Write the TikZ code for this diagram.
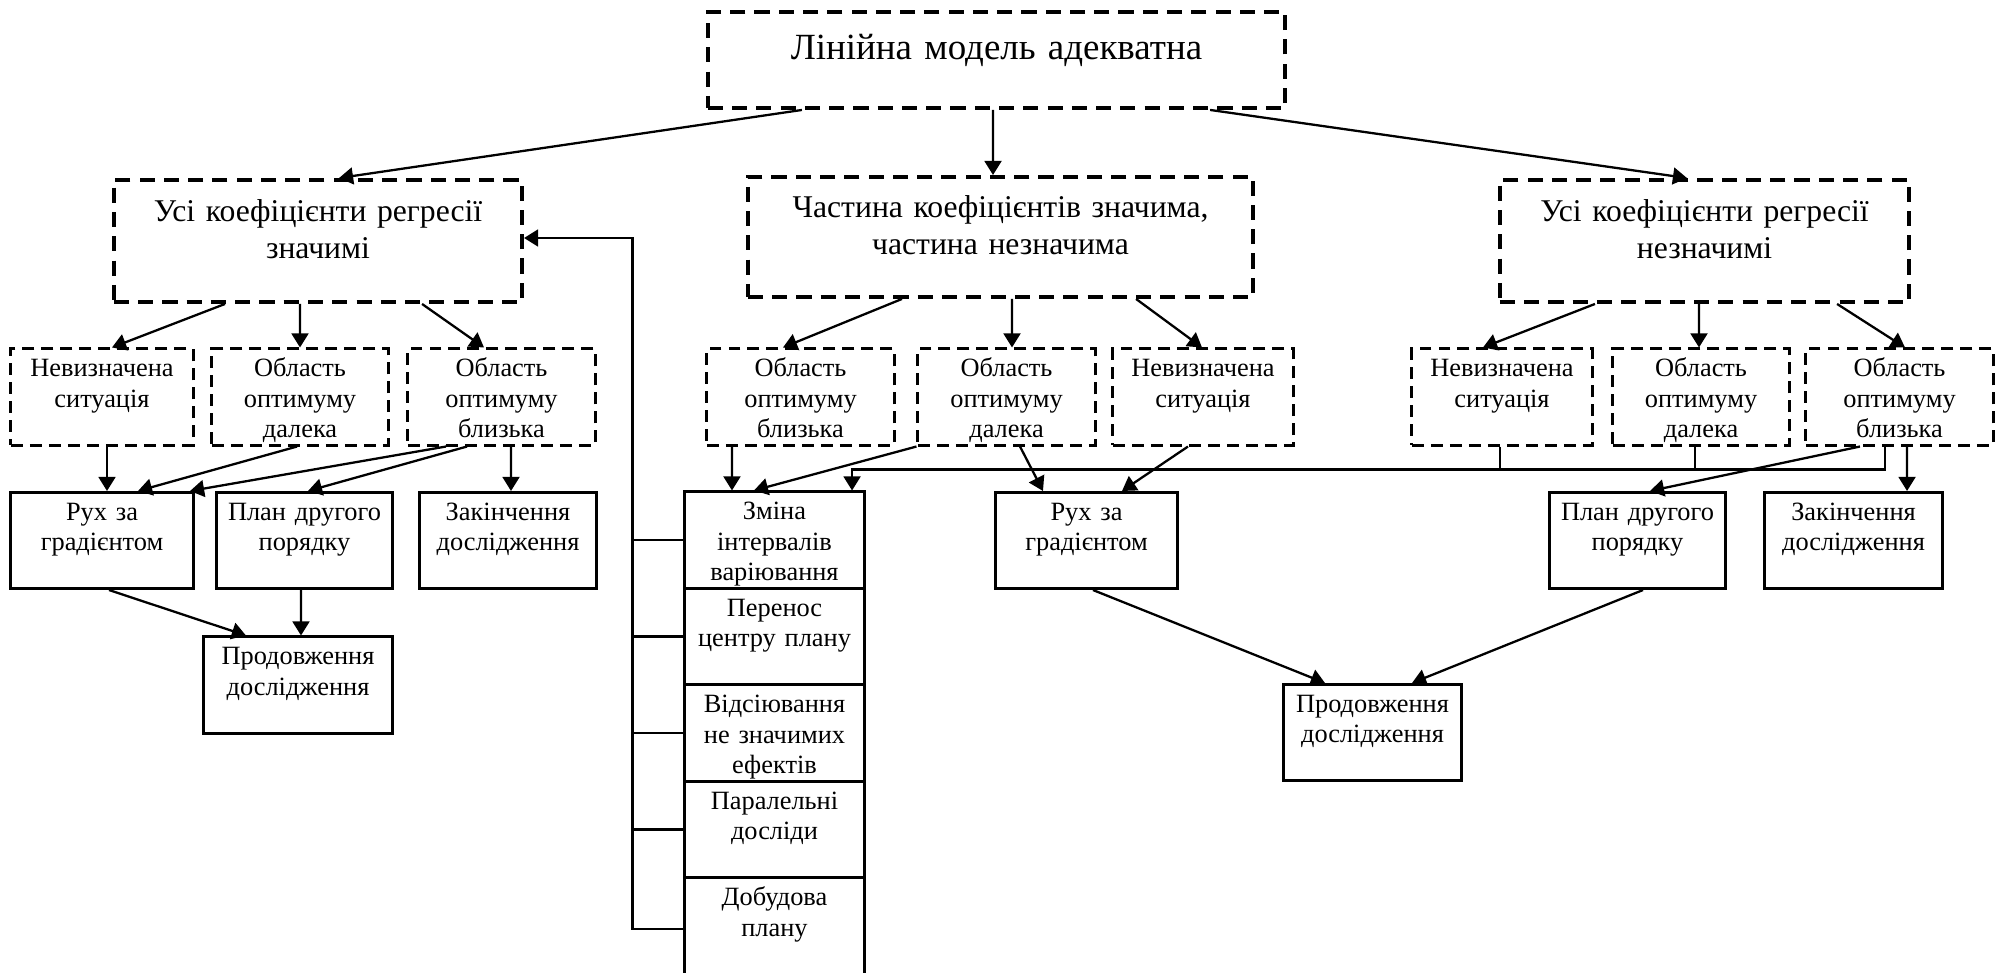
\documentclass[tikz,border=0pt]{standalone}
\usepackage{fontspec}
\setmainfont{Liberation Serif}
\usetikzlibrary{arrows.meta}

\begin{document}
\begin{tikzpicture}[x=0.01cm, y=-0.01cm, line width=0.65pt,
    >={Triangle[length=4pt,width=4.8pt]},
    big/.style={draw, line width=1.1pt, dash pattern=on 4.3pt off 2.6pt,
      inner sep=0pt, align=center, font={\fontsize{10.5}{12.6}\selectfont}},
    mid/.style={draw, line width=1.1pt, dash pattern=on 4.3pt off 2.6pt,
      inner sep=0pt, align=center, font={\fontsize{9.0}{10.5}\selectfont},
      text height=0.42cm, text depth=0.80cm},
    opt/.style={draw, line width=0.85pt, dash pattern=on 3.4pt off 2pt,
      inner sep=0pt, align=center, font={\fontsize{7.5}{8.55}\selectfont},
      text height=0.28cm, text depth=0.68cm},
    act/.style={draw, line width=0.85pt,
      inner sep=0pt, align=center, font={\fontsize{7.5}{8.55}\selectfont},
      text height=0.28cm, text depth=0.68cm}]
        \useasboundingbox (0,0) rectangle (2006,973);

        % model (top)
        \node[big, text width=5.77cm, text height=0.48cm, text depth=0.48cm] (model) at (996.5,60) {Лінійна модель адекватна};

        % three cases
        \node[mid, text width=4.08cm] (allsig) at (318,241) {Усі коефіцієнти регресії\\значимі};
        \node[mid, text width=5.05cm, text height=0.41cm, text depth=0.79cm] (partsig) at (1000.5,237) {Частина коефіцієнтів значима,\\частина незначима};
        \node[mid, text width=4.09cm] (nonsig) at (1704.5,241) {Усі коефіцієнти регресії\\незначимі};

        % situations
        \node[opt, text width=1.82cm] (undefA) at (102,397) {Невизначена\\ситуація};
        \node[opt, text width=1.76cm] (farA) at (300,397) {Область\\оптимуму\\далека};
        \node[opt, text width=1.87cm] (nearA) at (501.5,397) {Область\\оптимуму\\близька};
        \node[opt, text width=1.87cm] (nearB) at (800.5,397) {Область\\оптимуму\\близька};
        \node[opt, text width=1.77cm] (farB) at (1006.5,397) {Область\\оптимуму\\далека};
        \node[opt, text width=1.80cm] (undefB) at (1203,397) {Невизначена\\ситуація};
        \node[opt, text width=1.80cm] (undefC) at (1502,397) {Невизначена\\ситуація};
        \node[opt, text width=1.76cm] (farC) at (1701,397) {Область\\оптимуму\\далека};
        \node[opt, text width=1.87cm] (nearC) at (1899.5,397) {Область\\оптимуму\\близька};

        % actions
        \node[act, text width=1.82cm] (gradA) at (102,540.5) {Рух за\\градієнтом};
        \node[act, text width=1.75cm] (secondA) at (304.5,540.5) {План другого\\порядку};
        \node[act, text width=1.76cm] (endA) at (508,540.5) {Закінчення\\дослідження};
        \node[act, text width=1.88cm] (contA) at (298,685) {Продовження\\дослідження};
        \node[act, text width=1.81cm] (gradB) at (1086.5,540.5) {Рух за\\градієнтом};
        \node[act, text width=1.77cm] (contB) at (1372.5,732.5) {Продовження\\дослідження};
        \node[act, text width=1.75cm] (secondC) at (1637.5,540.5) {План другого\\порядку};
        \node[act, text width=1.77cm] (endC) at (1853.5,540.5) {Закінчення\\дослідження};

        % stack of measures
        \node[act, text width=1.79cm] (chg) at (774.5,540) {Зміна\\інтервалів\\варіювання};
        \node[act, text width=1.79cm] (shift) at (774.5,636.5) {Перенос\\центру плану};
        \node[act, text width=1.79cm] (drop) at (774.5,733) {Відсіювання\\не значимих\\ефектів};
        \node[act, text width=1.79cm] (par) at (774.5,829.5) {Паралельні\\досліди};
        \node[act, text width=1.79cm, text depth=0.74cm] (add) at (774.5,929) {Добудова\\плану};

        % Maps
        % model -> cases
        \draw[->] ([xshift=-1.945cm]model.south) -- ([xshift=0.21cm]allsig.north);
        \draw[->] ([xshift=-0.035cm]model.south) -- ([xshift=-0.075cm]partsig.north);
        \draw[->] ([xshift=2.135cm]model.south) -- ([xshift=-0.175cm]nonsig.north);

        % left branch
        \draw[->] ([xshift=-0.93cm]allsig.south) -- ([xshift=0.1cm]undefA.north);
        \draw[->] ([xshift=-0.18cm]allsig.south) -- (farA.north);
        \draw[->] ([xshift=1.04cm]allsig.south) -- ([xshift=-0.175cm]nearA.north);
        \draw[->] ([xshift=0.05cm]undefA.south) -- ([xshift=0.05cm]gradA.north);
        \draw[->] ([xshift=-0.03cm]farA.south) -- ([xshift=0.36cm]gradA.north);
        \draw[->] ([xshift=-0.555cm]nearA.south) -- ([xshift=0.88cm]gradA.north);
        \draw[->] ([xshift=-0.345cm]nearA.south) -- ([xshift=0.035cm]secondA.north);
        \draw[->] ([xshift=0.095cm]nearA.south) -- ([xshift=0.03cm]endA.north);
        \draw[->] ([xshift=0.07cm]gradA.south) -- ([xshift=-0.52cm]contA.north);
        \draw[->] ([xshift=-0.035cm]secondA.south) -- ([xshift=0.03cm]contA.north);

        % stack -> back to the first case
        \draw[->] (add.west) -- ++(-51,0) coordinate (back) |- ([yshift=0.03cm]allsig.east);
        \foreach \s in {chg,shift,drop,par}
            \draw (\s.west) -- (\s.west -| back);

        % middle branch
        \draw[->] ([xshift=-0.985cm]partsig.south) -- ([xshift=-0.175cm]nearB.north);
        \draw[->] ([xshift=0.115cm]partsig.south) -- ([xshift=0.055cm]farB.north);
        \draw[->] ([xshift=1.355cm]partsig.south) -- ([xshift=-0.01cm]undefB.north);
        \draw[->] ([xshift=-0.685cm]nearB.south) -- ([xshift=-0.425cm]chg.north);
        \draw[->] (farB.south west) -- ([xshift=-0.205cm]chg.north);
        \draw[->] ([xshift=0.135cm]farB.south) -- ([xshift=-0.435cm]gradB.north);
        \draw[->] ([xshift=-0.15cm]undefB.south) -- ([xshift=0.355cm]gradB.north);
        \draw[->] ([xshift=0.065cm]gradB.south) -- ([xshift=-0.475cm]contB.north);

        % right branch
        \draw[->] ([xshift=-1.095cm]nonsig.south) -- ([xshift=-0.19cm]undefC.north);
        \draw[->] ([xshift=-0.055cm]nonsig.south) -- ([xshift=-0.02cm]farC.north);
        \draw[->] ([xshift=1.325cm]nonsig.south) -- ([xshift=0.055cm]nearC.north);
        \draw[->] ([xshift=-0.145cm]nearC.south) -- ++(0,23) -| ([xshift=0.775cm]chg.north);
        \draw ([xshift=-0.02cm]undefC.south) -- ++(0,23);
        \draw ([xshift=-0.06cm]farC.south) -- ++(0,23);
        \draw[->] ([xshift=-0.395cm]nearC.south) -- ([xshift=0.125cm]secondC.north);
        \draw[->] ([xshift=0.075cm]nearC.south) -- ([xshift=0.535cm]endC.north);
        \draw[->] ([xshift=0.055cm]secondC.south) -- ([xshift=0.395cm]contB.north);

    \end{tikzpicture}
\end{document}
